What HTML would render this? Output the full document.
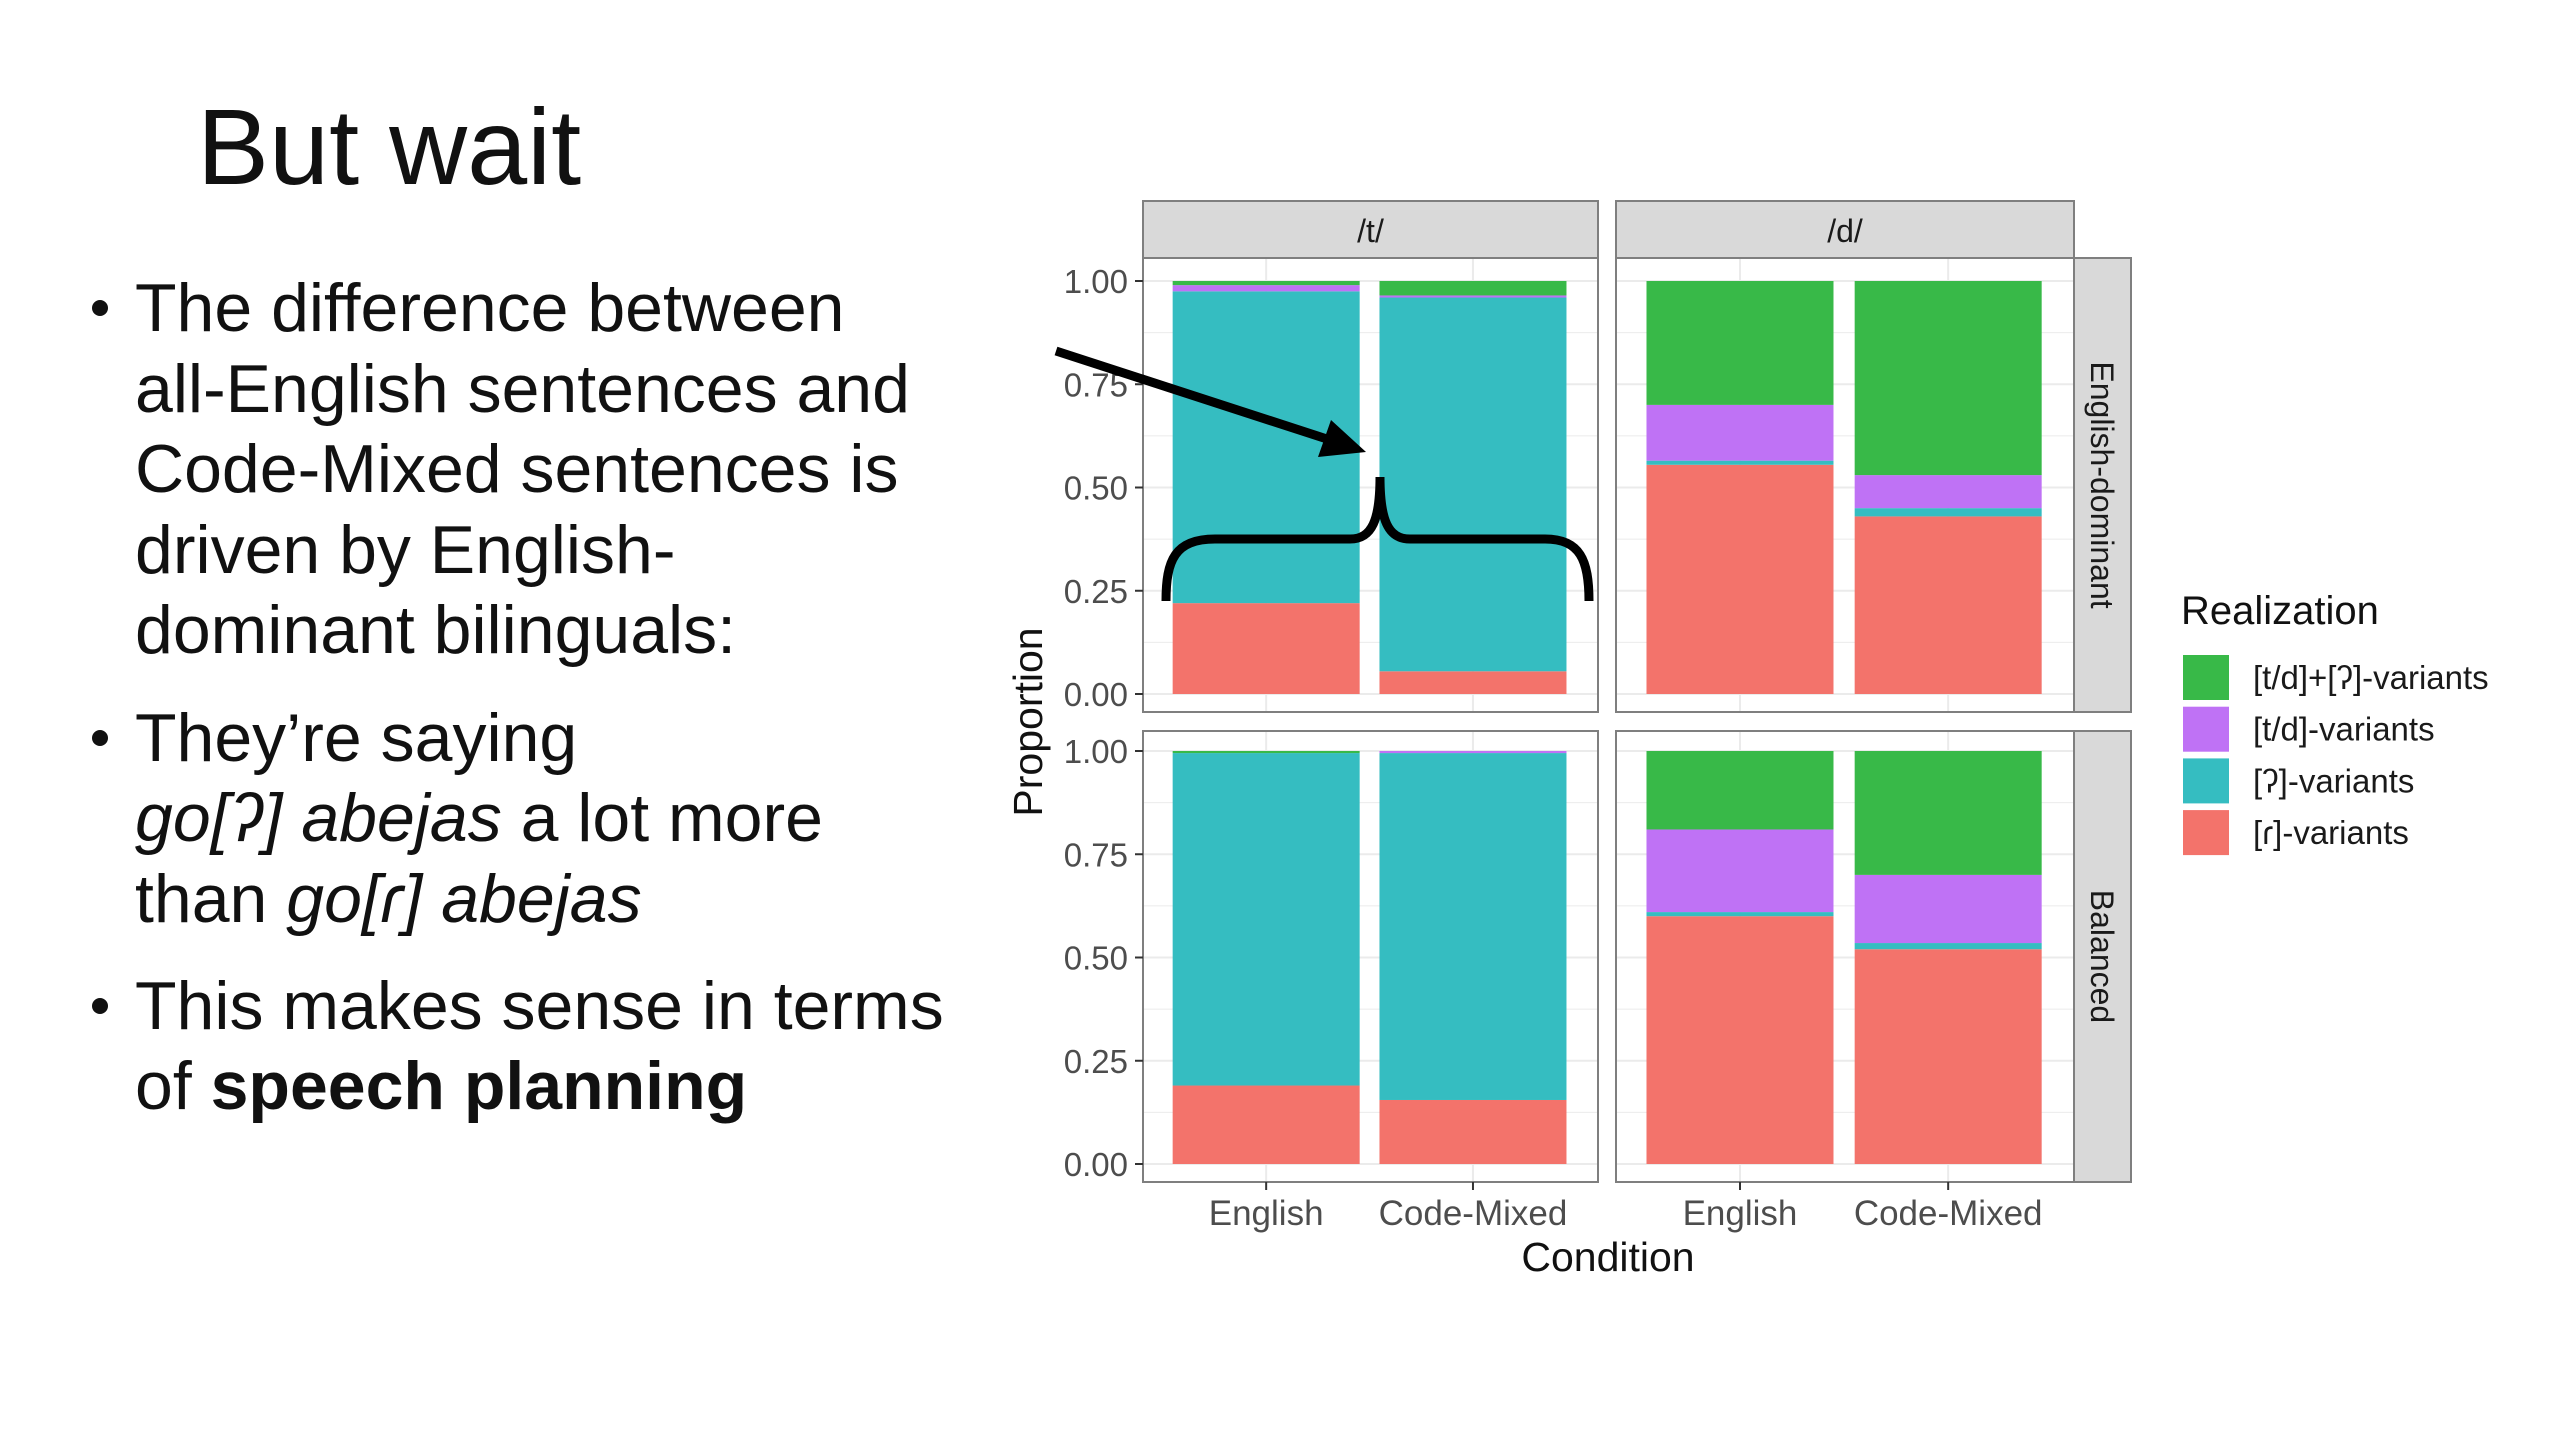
<!DOCTYPE html>
<html><head><meta charset="utf-8"><style>
html,body{margin:0;padding:0;background:#fff}
svg{display:block}
</style></head><body>
<svg id="slide" width="2560" height="1440" viewBox="0 0 2560 1440" xmlns="http://www.w3.org/2000/svg" font-family="Liberation Sans, sans-serif">
<rect width="2560" height="1440" fill="#fff"/>
<text x="197" y="184" font-size="108" fill="#111">But wait</text>
<g font-size="68" fill="#111">
  <circle cx="100" cy="308" r="8" fill="#111"/>
  <text x="135" y="331">The difference between</text>
  <text x="135" y="412">all-English sentences and</text>
  <text x="135" y="492">Code-Mixed sentences is</text>
  <text x="135" y="573">driven by English-</text>
  <text x="135" y="653">dominant bilinguals:</text>
  <circle cx="100" cy="738" r="8" fill="#111"/>
  <text x="135" y="761">They’re saying</text>
  <text x="135" y="841"><tspan font-style="italic">go[ʔ] abejas</tspan> a lot more</text>
  <text x="135" y="922">than <tspan font-style="italic">go[ɾ] abejas</tspan></text>
  <circle cx="100" cy="1006" r="8" fill="#111"/>
  <text x="135" y="1029">This makes sense in terms</text>
  <text x="135" y="1109">of <tspan font-weight="bold">speech planning</tspan></text>
</g>
<g id="chart"></g>
</svg>
<script>
const categories = ["English", "Code-Mixed"];
const columnFacets = ["/t/", "/d/"];
const rowFacets = ["English-dominant", "Balanced"];
const seriesNames = ["[ɾ]-variants", "[ʔ]-variants", "[t/d]-variants", "[t/d]+[ʔ]-variants"];
const seriesColors = ["#F3736B", "#35BDC1", "#BF72F5", "#38B948"];
// values per panel [row][col][category] -> proportions of seriesNames (bottom to top)
const engDomT = [[0.22, 0.755, 0.015, 0.01], [0.055, 0.905, 0.005, 0.035]];
const engDomD = [[0.555, 0.01, 0.135, 0.30], [0.43, 0.02, 0.08, 0.47]];
const balancedT = [[0.19, 0.805, 0.0, 0.005], [0.155, 0.84, 0.005, 0.0]];
const balancedD = [[0.60, 0.01, 0.20, 0.19], [0.52, 0.015, 0.165, 0.30]];
const panelData = [[engDomT, engDomD], [balancedT, balancedD]];
const yTicks = [0, 0.25, 0.5, 0.75, 1];
const yTickLabels = ["0.00", "0.25", "0.50", "0.75", "1.00"];

const NS = "http://www.w3.org/2000/svg";
const g = document.getElementById("chart");
function mk(tag, attrs, parent, text) {
  const e = document.createElementNS(NS, tag);
  for (const k in attrs) e.setAttribute(k, attrs[k]);
  if (text !== undefined) e.textContent = text;
  (parent || g).appendChild(e);
  return e;
}
const panelX = [[1143, 1598], [1616, 2074]];
const panelY = [[258, 712], [731, 1182]];
const y0 = [694, 1164], y1 = [281, 751];
function yScale(r, v) { return y0[r] + (y1[r] - y0[r]) * v; }
function xCenter(c, i) {
  const L = panelX[c][0], W = panelX[c][1] - panelX[c][0];
  return L + W * (0.5 + i * 1.0) / 2.2 + W * 0.05 - 3;
}
const barW = 187;

for (let c = 0; c < 2; c++) {
  const s = mk("rect", {x: panelX[c][0], y: 201, width: panelX[c][1] - panelX[c][0], height: 57, fill: "#D9D9D9", stroke: "#7f7f7f", "stroke-width": 2});
  
  
  const t = mk("text", {x: (panelX[c][0] + panelX[c][1]) / 2, y: 242, "font-size": 32, "text-anchor": "middle", fill: "#1a1a1a"}, g, columnFacets[c]);
  
  
}
for (let r = 0; r < 2; r++) {
  const s = mk("rect", {x: 2074, y: panelY[r][0], width: 57, height: panelY[r][1] - panelY[r][0], fill: "#D9D9D9", stroke: "#7f7f7f", "stroke-width": 2});
  
  
  const cy = (panelY[r][0] + panelY[r][1]) / 2;
  const t = mk("text", {x: 2102, y: cy, "font-size": 32, "text-anchor": "middle", fill: "#1a1a1a", transform: "rotate(90 2102 " + cy + ")", "dominant-baseline": "central"}, g, rowFacets[r]);
  
  

  for (let c = 0; c < 2; c++) {
    const bg = mk("rect", {x: panelX[c][0], y: panelY[r][0], width: panelX[c][1] - panelX[c][0], height: panelY[r][1] - panelY[r][0], fill: "#fff"});
    
    
    for (let k = 0; k <= 8; k++) {
      const y = yScale(r, k / 8);
      const gl = mk("line", {x1: panelX[c][0], x2: panelX[c][1], y1: y, y2: y, stroke: "#EBEBEB", "stroke-width": k % 2 ? 1 : 2});
      
      
    }
    for (let i = 0; i < categories.length; i++) {
      const cx = xCenter(c, i);
      const vg = mk("line", {x1: cx, x2: cx, y1: panelY[r][0], y2: panelY[r][1], stroke: "#EBEBEB", "stroke-width": 2});
      
      
      let cum = 0;
      const vals = panelData[r][c][i];
      for (let sidx = 0; sidx < vals.length; sidx++) {
        const v = vals[sidx];
        const ya = yScale(r, cum), yb = yScale(r, cum + v);
        cum += v;
        if (v <= 0) continue;
        const b = mk("rect", {x: cx - barW / 2, y: yb, width: barW, height: ya - yb, fill: seriesColors[sidx]});
        
        
      }
    }
    const br = mk("rect", {x: panelX[c][0], y: panelY[r][0], width: panelX[c][1] - panelX[c][0], height: panelY[r][1] - panelY[r][0], fill: "none", stroke: "#7f7f7f", "stroke-width": 2});
    
    
  }
  for (let k = 0; k < yTicks.length; k++) {
    const y = yScale(r, yTicks[k]);
    const tk = mk("line", {x1: 1135, x2: 1143, y1: y, y2: y, stroke: "#333", "stroke-width": 2});
    
    
    const tl = mk("text", {x: 1128, y: y + 12, "font-size": 33, "text-anchor": "end", fill: "#4d4d4d"}, g, yTickLabels[k]);
    
    
  }
}
for (let c = 0; c < 2; c++) {
  for (let i = 0; i < categories.length; i++) {
    const cx = xCenter(c, i);
    const tk = mk("line", {x1: cx, x2: cx, y1: 1182, y2: 1190, stroke: "#333", "stroke-width": 2});
    
    
    const tl = mk("text", {x: cx, y: 1225, "font-size": 35, "text-anchor": "middle", fill: "#4d4d4d"}, g, categories[i]);
    
    
  }
}
const xt = mk("text", {x: 1608, y: 1271, "font-size": 41, "text-anchor": "middle", fill: "#111"}, g, "Condition");


const yt = mk("text", {x: 1042, y: 722, "font-size": 41, "text-anchor": "middle", fill: "#111", transform: "rotate(-90 1042 722)"}, g, "Proportion");



const lt = mk("text", {x: 2181, y: 624, "font-size": 40, fill: "#111"}, g, "Realization");


for (let k = 0; k < 4; k++) {
  const sidx = 3 - k;
  const y = 655 + k * 51.7;
  const sw = mk("rect", {x: 2183, y: y, width: 46, height: 45, fill: seriesColors[sidx]});
  
  
  const tx = mk("text", {x: 2253, y: y + 34, "font-size": 33, fill: "#1a1a1a"}, g, seriesNames[sidx]);
  
  
}

// annotations
const arr = mk("line", {x1: 1056, y1: 351, x2: 1330, y2: 440, stroke: "#000", "stroke-width": 9});


const head = mk("polygon", {points: "1366,452 1318,457 1331,420", fill: "#000"});


const brace = mk("path", {d: "M1166,601 C1166,560 1175,539 1215,539 L1350,539 C1372,539 1380,520 1380,477 C1380,520 1388,539 1410,539 L1545,539 C1580,539 1589,560 1589,601", fill: "none", stroke: "#000", "stroke-width": 9});


</script>
</body></html>
